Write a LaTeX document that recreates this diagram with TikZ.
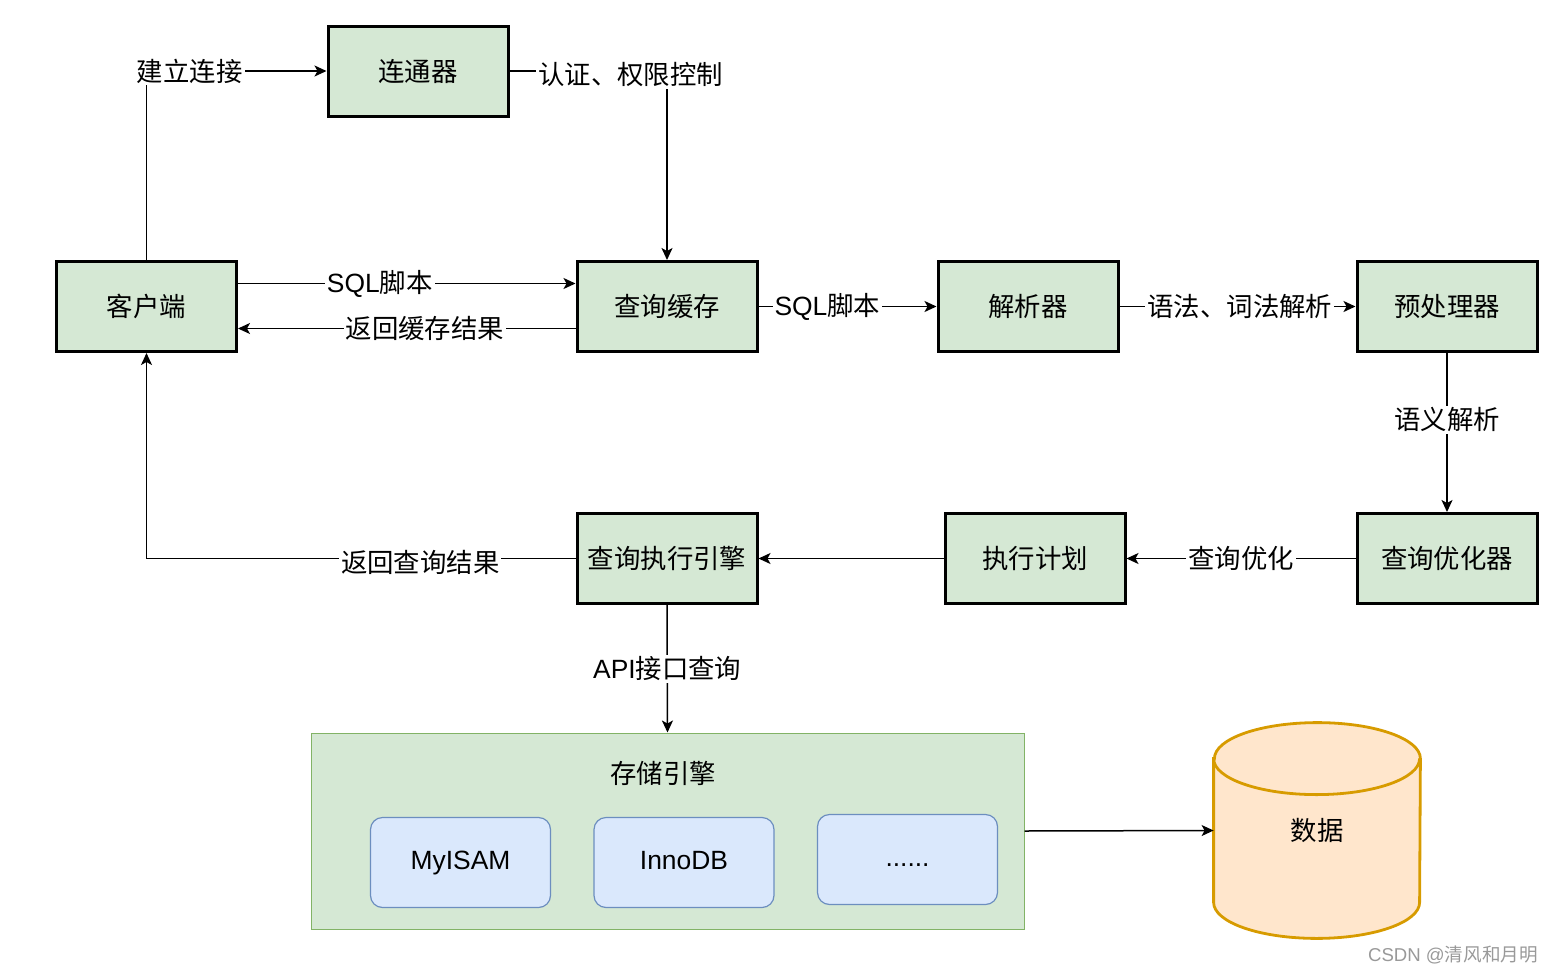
\documentclass[tikz,border=0pt]{standalone}
\usepackage{fontspec}
\setmainfont{Noto Sans CJK SC}
\newfontfamily\lat{Liberation Sans}
\usetikzlibrary{arrows.meta}
\definecolor{boxgreen}{HTML}{D5E8D4}
\definecolor{grpline}{HTML}{82B366}
\definecolor{engblue}{HTML}{DAE8FC}
\definecolor{engline}{HTML}{6C8EBF}
\definecolor{dbfill}{HTML}{FFE6CC}
\definecolor{dbline}{HTML}{D79B00}
\begin{document}
\begin{tikzpicture}[x=0.5pt,y=0.5pt,font=\fontsize{13.2}{16}\selectfont,
   blk/.style={draw,line width=1.5pt,fill=boxgreen,minimum width=90pt,minimum height=45pt},
   eng/.style={draw=engline,fill=engblue,line width=0.6pt,rounded corners=6pt,minimum width=90pt,minimum height=45pt,text height=9.5pt,text depth=2.5pt},
   lbl/.style={fill=white,inner sep=1pt},
   line/.style={line width=0.75pt,-{Stealth[length=6pt,width=5.5pt,inset=1.5pt]}}]
   \useasboundingbox (0,0) rectangle (1553,-975);
   % boxes of the server
   \node[blk] (conn) at (418,-71) {连通器};
   \node[blk] (client) at (146.5,-306.5) {客户端};
   \node[blk] (cache) at (667,-306.5) {查询缓存};
   \node[blk] (parser) at (1028,-306.5) {解析器};
   \node[blk] (pre) at (1447,-306.5) {预处理器};
   \node[blk] (opt) at (1447,-558.5) {查询优化器};
   \node[blk] (plan) at (1035,-558.5) {执行计划};
   \node[blk] (exec) at (667,-558.5) {查询执行引擎};
   % storage engines
   \node[draw=grpline,fill=boxgreen,line width=0.5pt,minimum width=356.5pt,minimum height=98pt] (store) at (667.5,-831) {};
   \node (storetitle) at (663,-773) {存储引擎};
   \node[eng] (myisam) at (460.5,-862.5) {\lat MyISAM};
   \node[eng] (innodb) at (684,-862.5) {\lat InnoDB};
   \node[eng] (more) at (907.5,-859.5) {\lat ......};
   % data
   \path node[minimum width=103pt,minimum height=107.5pt] (db) at (1317,-830.5) {};
   \draw[draw=dbline,fill=dbfill,line width=1.4pt] ([yshift=-18pt]db.north west) -- ([yshift=18pt]db.south west)
      arc[start angle=180,end angle=360,x radius=51.5pt,y radius=18pt] -- ([yshift=-18pt]db.north east)
      arc[start angle=0,end angle=180,x radius=51.5pt,y radius=18pt] -- cycle;
   \draw[draw=dbline,line width=1.4pt] ([yshift=-18pt]db.north west) arc[start angle=180,end angle=360,x radius=51.5pt,y radius=18pt];
   \node (dbtext) at (db.center) {数据};
   % connectors
   \draw[line] (client.north) |- node[lbl,pos=0.62] {建立连接} (conn.west);
   \draw[line] (conn.east) -| node[lbl,pos=0.385,yshift=-2pt] {认证、权限控制} (cache.north);
   \draw[line] ([yshift=11.5pt]client.east) -- node[lbl,pos=0.42] {{\lat SQL}脚本} ([yshift=11.5pt]cache.west);
   \draw[line] ([yshift=-11pt]cache.west) -- node[lbl,pos=0.446] {返回缓存结果} ([yshift=-11pt]client.east);
   \draw[line] (cache) -- node[lbl,pos=0.387] {{\lat SQL}脚本} (parser);
   \draw[line] (parser) -- node[lbl,pos=0.51] {语法、词法解析} (pre);
   \draw[line] (pre) -- node[lbl,pos=0.42] {语义解析} (opt);
   \draw[line] (opt) -- node[lbl,pos=0.5] {查询优化} (plan);
   \draw[line] (plan) -- (exec);
   \draw[line] (exec.west) -| node[lbl,pos=0.181,yshift=-2pt] {返回查询结果} (client.south);
   \draw[line] (exec.south) -- node[lbl,pos=0.5] {{\lat API}接口查询} (store.north);
   \draw[line] (store.east) -- (db.west);
   \node[text=black!40,font=\fontsize{9.3}{11}\selectfont] (mark) at (1453,-955) {{\lat CSDN @}清风和月明};
\end{tikzpicture}
\end{document}
